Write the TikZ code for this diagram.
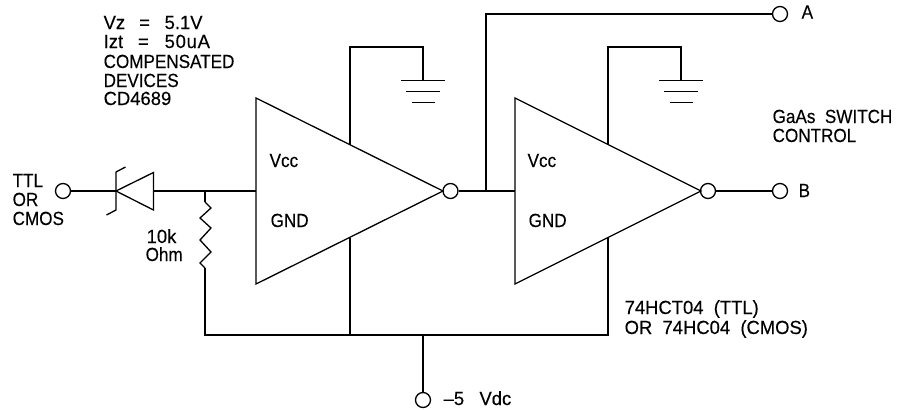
\documentclass[tikz,border=0pt]{standalone}
\usepackage{fontspec}
\setmainfont[FakeStretch=0.9,FakeBold=0.25]{Liberation Sans}
\newfontfamily\numfont[FakeStretch=0.97,FakeBold=0.25]{Liberation Sans}
\usepackage{tikz}

\tikzset{
  wire/.style={line width=1.3pt},
  term/.style={circle,draw,line width=1.3pt,inner sep=0pt,minimum size=15pt},
  lbl/.style={anchor=base west,inner sep=0pt,align=left,font=\fontsize{19}{19}\selectfont},
  numlbl/.style={lbl,font=\fontsize{19}{19}\selectfont\numfont},
}

\begin{document}
\begin{tikzpicture}[x=1pt,y=-1pt,wire]
      \useasboundingbox (0,0) rectangle (898,410);

      \node [term] (in) at (63,191) {};
      \node [term] (bub1) at (450.5,191) {};
      \node [term] (bub2) at (708,191) {};
      \node [term] (a) at (780,14) {};
      \node [term] (b) at (780,191) {};
      \node [term] (neg) at (423,400) {};

      \coordinate (k) at (116,191);
      \coordinate (kt) at (116,172);
      \coordinate (kb) at (116,210);
      \coordinate (kth) at (125.5,167);
      \coordinate (kbh) at (106.5,215);
      \coordinate (dt) at (153.5,172.5);
      \coordinate (db) at (153.5,210);
      \coordinate (dm) at (153.5,191);
      \coordinate (j1) at (205,191);
      \coordinate (r1) at (205,202);
      \coordinate (r2) at (205,268);
      \coordinate (busl) at (205,335);
      \coordinate (busr) at (608,335);
      \coordinate (busm) at (350,335);
      \coordinate (busn) at (423,335);

      \coordinate (t1) at (256,98);
      \coordinate (u1) at (256,284);
      \coordinate (p1) at (443,191);
      \coordinate (m1) at (256,191);
      \coordinate (vcc1) at (350,144.5);
      \coordinate (gnd1) at (350,237.5);
      \coordinate (top1) at (350,47);
      \coordinate (topg1) at (423,47);
      \coordinate (g1) at (423,80);

      \coordinate (t2) at (515,98);
      \coordinate (u2) at (515,284);
      \coordinate (p2) at (701,191);
      \coordinate (m2) at (515,191);
      \coordinate (vcc2) at (608,144.5);
      \coordinate (gnd2) at (608,237.5);
      \coordinate (top2) at (608,47);
      \coordinate (topg2) at (681,47);
      \coordinate (g2) at (681,80);
      \coordinate (j2) at (486,191);
      \coordinate (up) at (486,14);

      \draw (in) to (k);
      \draw (kth) -- (kt) -- (kb) -- (kbh);
      \draw (k) -- (dt) -- (db) -- cycle;
      \draw (dm) to (m1);
      \draw (j1) to (r1);
      \draw (r1) -- ++(6,6) -- ++(-11,10) -- ++(11,10) -- ++(-11,12) -- ++(11,12) -- ++(-11,11) -- (r2);
      \draw (r2) -- (busl) -- (busr) -- (gnd2);
      \draw (busm) to (gnd1);
      \draw (busn) to (neg);

      \draw (t1) -- (p1) -- (u1) -- cycle;
      \draw (t2) -- (p2) -- (u2) -- cycle;
      \draw (bub1) to (m2);
      \draw (j2) -- (up) -- (a);
      \draw (bub2) to (b);
      \draw (vcc1) -- (top1) -- (topg1) -- (g1);
      \draw (vcc2) -- (top2) -- (topg2) -- (g2);

      \foreach \g in {g1,g2} {
        \draw [line width=1pt] ([xshift=-22pt]\g) -- ([xshift=22pt]\g);
        \draw [line width=1pt] ([xshift=-17pt,yshift=-11pt]\g) -- ([xshift=17pt,yshift=-11pt]\g);
        \draw [line width=1pt] ([xshift=-11.5pt,yshift=-22pt]\g) -- ([xshift=11.5pt,yshift=-22pt]\g);
      }

      \node [numlbl] (notea) at (103,29) {\makebox[61pt][l]{Vz\hspace{14pt}=}5.1V};
      \node [numlbl] (noteb) at (103,48) {\makebox[61pt][l]{Izt\hspace{15pt}=}\addfontfeature{LetterSpace=4}50uA};
      \node [lbl] (notec) at (103,68) {COMPENSATED};
      \node [lbl] (noted) at (103,87) {DEVICES};
      \node [numlbl] (notee) at (103,105) {CD4689};
      \node [lbl] (ttl) at (12,187) {TTL};
      \node [lbl] (or) at (12,206) {OR};
      \node [lbl] (cmos) at (12,225) {CMOS};
      \node [numlbl] (rv) at (146,243) {10k};
      \node [lbl] (ru) at (145,261) {Ohm};
      \node [lbl] (vcca) at (269,167) {Vcc};
      \node [lbl] (gnda) at (270,227) {GND};
      \node [lbl] (vccb) at (527,167) {Vcc};
      \node [lbl] (gndb) at (528,227) {GND};
      \node [lbl] (la) at (801,18.5) {A};
      \node [lbl] (lb) at (798,197) {B};
      \node [lbl] (sw) at (772,123) {GaAs\ \ SWITCH};
      \node [lbl] (ctl) at (772,142) {CONTROL};
      \node [numlbl] (hct) at (624,314) {74HCT04\ \ (TTL)};
      \node [numlbl] (hc) at (624,334) {OR\ \ 74HC04\ \ (CMOS)};
      \node [numlbl] (vdc) at (443,405) {\textendash5\ \ \ Vdc};
      \end{tikzpicture}
\end{document}
